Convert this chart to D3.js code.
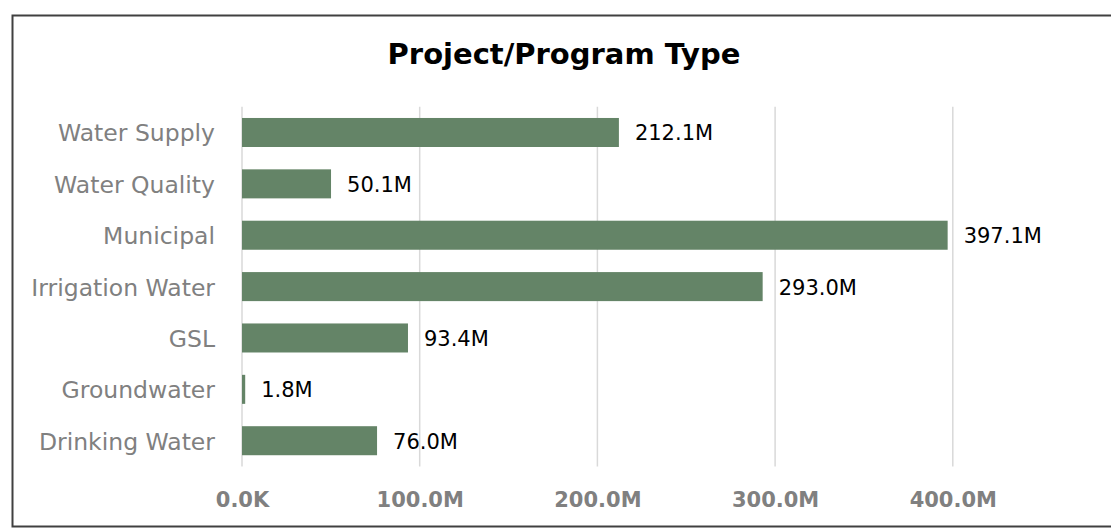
<!DOCTYPE html>
<html>
<head>
<meta charset="utf-8">
<script src="https://cdn.jsdelivr.net/npm/d3@7"></script>
<style>
  html, body { margin: 0; padding: 0; background: #fff; overflow: hidden; }
  svg { display: block; }
</style>
</head>
<body>
<svg id="chart" width="1111" height="529"></svg>
<script>
const chartTitle = "Project/Program Type";
const categories = ["Water Supply", "Water Quality", "Municipal", "Irrigation Water", "GSL", "Groundwater", "Drinking Water"];
const values = [212.1, 50.1, 397.1, 293.0, 93.4, 1.8, 76.0]; // millions
const valueLabels = ["212.1M", "50.1M", "397.1M", "293.0M", "93.4M", "1.8M", "76.0M"];
const tickValues = [0, 100, 200, 300, 400];
const tickLabels = ["0.0K", "100.0M", "200.0M", "300.0M", "400.0M"];

const svg = d3.select("#chart");

// outer border (right edge falls just outside the viewport)
svg.append("rect")
  .attr("x", 12.5).attr("y", 15.5)
  .attr("width", 1110).attr("height", 511)
  .attr("fill", "#fff").attr("stroke", "#404040").attr("stroke-width", 2);

svg.append("text")
  .attr("x", 564).attr("y", 64)
  .attr("text-anchor", "middle")
  .attr("font-family", "DejaVu Sans, Verdana, sans-serif")
  .attr("font-weight", "bold")
  .attr("font-size", 29)
  .attr("fill", "#000")
  .text(chartTitle);

const x0 = 242, yTop = 106.8, yBot = 466.4;
const x = d3.scaleLinear().domain([0, 100]).range([x0, x0 + 177.7]);
const y = d3.scaleBand().domain(categories).range([yTop, yBot]).paddingInner(0.435).paddingOuter(0.2175);

// gridlines
svg.append("g")
  .selectAll("line").data(tickValues).join("line")
  .attr("x1", d => x(d)).attr("x2", d => x(d))
  .attr("y1", yTop).attr("y2", yBot)
  .attr("stroke", "#d9d9d9").attr("stroke-width", 1.5);

// x axis tick labels
const xAxis = d3.axisBottom(x).tickValues(tickValues)
  .tickFormat((d, i) => tickLabels[i]).tickSize(0).tickPadding(0);
const gx = svg.append("g").attr("transform", `translate(0, ${yBot})`).call(xAxis);
gx.select(".domain").remove();
gx.selectAll("text")
  .attr("y", 41).attr("dy", 0)
  .attr("font-family", "DejaVu Sans, Verdana, sans-serif")
  .attr("font-weight", "bold")
  .attr("font-size", 21)
  .attr("fill", "#808080");

// y axis labels
const yAxis = d3.axisLeft(y).tickSize(0).tickPadding(0);
const gy = svg.append("g").attr("transform", `translate(215, 0)`).call(yAxis);
gy.select(".domain").remove();
gy.selectAll("text")
  .attr("x", 0).attr("dy", "0.38em")
  .attr("font-family", "DejaVu Sans, Verdana, sans-serif")
  .attr("font-size", 23.5)
  .attr("fill", "#808080");

// bars
svg.append("g")
  .selectAll("rect").data(values).join("rect")
  .attr("x", x(0))
  .attr("y", (d, i) => y(categories[i]))
  .attr("width", d => x(d) - x(0))
  .attr("height", y.bandwidth())
  .attr("fill", "#648467");

// value labels
svg.append("g")
  .selectAll("text").data(values).join("text")
  .attr("x", d => x(d) + 16)
  .attr("y", (d, i) => y(categories[i]) + y.bandwidth() / 2)
  .attr("dy", "0.38em")
  .attr("font-family", "DejaVu Sans, Verdana, sans-serif")
  .attr("font-size", 21)
  .attr("fill", "#000")
  .text((d, i) => valueLabels[i]);
</script>
</body>
</html>
